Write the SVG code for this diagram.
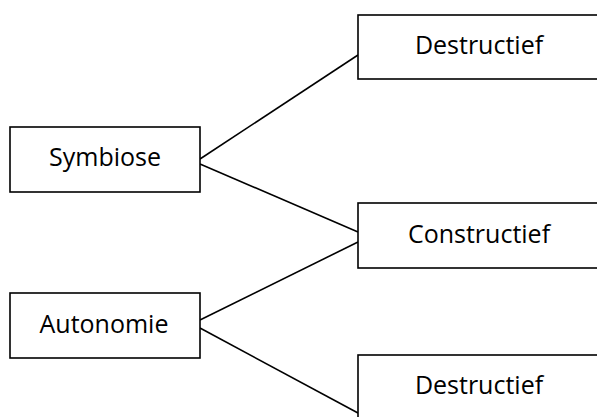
<svg xmlns="http://www.w3.org/2000/svg" width="597" height="417" viewBox="0 0 597 417">
<style>
.box{fill:#fff;stroke:#000;stroke-width:1.6}
.lbl{font-family:"Open Sans","Liberation Sans",sans-serif;font-size:25px;fill:#000;text-anchor:middle}
.conn{stroke:#000;stroke-width:1.6;fill:none}
</style>
<rect width="597" height="417" fill="#fff"/>
<g id="connectors">
<line class="conn" x1="200" y1="159" x2="358" y2="55"/>
<line class="conn" x1="200" y1="164" x2="358" y2="232"/>
<line class="conn" x1="200" y1="320" x2="358" y2="242"/>
<line class="conn" x1="200" y1="328" x2="358" y2="413"/>
</g>
<g id="symbiose">
<rect class="box" x="10" y="127" width="190" height="65"/>
<text class="lbl" x="105" y="166">Symbiose</text>
</g>
<g id="autonomie">
<rect class="box" x="10" y="293" width="190" height="65"/>
<text class="lbl" x="104" y="333">Autonomie</text>
</g>
<g id="destructief1">
<rect class="box" x="358" y="15" width="243" height="64"/>
<text class="lbl" x="479" y="54">Destructief</text>
</g>
<g id="constructief">
<rect class="box" x="358" y="203" width="243" height="65"/>
<text class="lbl" x="479" y="243">Constructief</text>
</g>
<g id="destructief2">
<rect class="box" x="358" y="355" width="243" height="70"/>
<text class="lbl" x="479" y="394">Destructief</text>
</g>
</svg>
